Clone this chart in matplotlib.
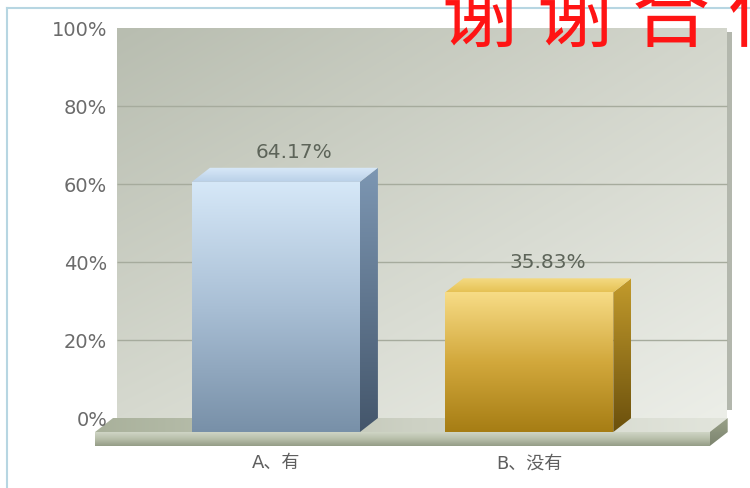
import numpy as np
import matplotlib
matplotlib.use('Agg')
import matplotlib.pyplot as plt
from matplotlib.colors import LinearSegmentedColormap, to_rgb
from matplotlib.patches import Polygon, Rectangle
from matplotlib.lines import Line2D

categories = ['A、有', 'B、没有']
values = [64.17, 35.83]
value_labels = ['64.17%', '35.83%']
y_ticks = [0, 20, 40, 60, 80, 100]
y_tick_labels = ['0%', '20%', '40%', '60%', '80%', '100%']
title_text = '谢 谢 合 作'

plt.rcParams['font.family'] = ['DejaVu Sans', 'Noto Sans CJK SC']

# 3d look: offsets of the front faces against the back wall
dx, dy = 0.071, 3.6
bar_w = 0.663
floor_th = 3.6
wall_l, wall_r = -0.698, 1.708
floor_l, floor_r = -0.714, 1.712


def grad(ax, pts, colors, direction='v', z=1):
    poly = Polygon(pts, closed=True, fc='none', ec='none', transform=ax.transData)
    ax.add_patch(poly)
    xs = [p[0] for p in pts]
    ys = [p[1] for p in pts]
    g = np.linspace(0, 1, 256)
    arr = g.reshape(-1, 1) if direction == 'v' else g.reshape(1, -1)
    cmap = LinearSegmentedColormap.from_list('g', colors)
    ax.imshow(arr, cmap=cmap, extent=[min(xs), max(xs), min(ys), max(ys)],
              origin='lower', aspect='auto', interpolation='bilinear',
              clip_path=poly, zorder=z)


fig = plt.figure(figsize=(7.5, 4.88), dpi=100)
ax = fig.add_axes([0, 0, 1, 1])
ax.set_xlim(-1.16, 1.80)
ax.set_ylim(-17.95, 107.2)
ax.set_autoscale_on(False)

# back wall, 2d gradient
tl, tr = np.array(to_rgb('#b8bdb0')), np.array(to_rgb('#d3d6cc'))
bl, br = np.array(to_rgb('#d6d9cf')), np.array(to_rgb('#eceee8'))
u = np.linspace(0, 1, 200)[None, :, None]
v = np.linspace(0, 1, 200)[:, None, None]
wall = (1 - v) * ((1 - u) * bl + u * br) + v * ((1 - u) * tl + u * tr)
ax.imshow(wall, extent=[wall_l, wall_r, 0, 100], origin='lower', aspect='auto',
          interpolation='bilinear', zorder=0.5)
ax.add_patch(Rectangle((wall_r, 2), 0.02, 97, fc='#b3b7ad', ec='none', zorder=0.6))
ax.hlines(y_ticks[1:-1], wall_l, wall_r, color='#a6ab9d', lw=1, zorder=0.8)

# floor slab
grad(ax, [(floor_l - dx, -dy), (floor_r - dx, -dy), (floor_r, 0), (floor_l, 0)],
     ['#a9b19b', '#cdd1c4', '#e2e5dc'], direction='h', z=1)
grad(ax, [(floor_l - dx, -dy - floor_th), (floor_r - dx, -dy - floor_th),
          (floor_r - dx, -dy), (floor_l - dx, -dy)],
     ['#949c86', '#b9c0ab', '#d3d8ca'], z=1)
grad(ax, [(floor_r - dx, -dy - floor_th), (floor_r, -floor_th), (floor_r, 0), (floor_r - dx, -dy)],
     ['#7c846e', '#9aa28a'], z=1)

front_cols = [['#7890a8', '#a9bfd5', '#d6e8f8'], ['#a67d14', '#d2a83c', '#f7dc86']]
side_cols = [['#44566b', '#7d97b3'], ['#6b500c', '#c39b2c']]
top_cols = [['#b9d0e8', '#d9e9f8'], ['#e6c255', '#f5dc86']]

for i, val in enumerate(values):
    x0, x1 = i - bar_w / 2, i + bar_w / 2
    grad(ax, [(x0 - dx, -dy), (x1 - dx, -dy), (x1 - dx, val - dy), (x0 - dx, val - dy)],
         front_cols[i], z=2)
    grad(ax, [(x1 - dx, -dy), (x1, 0), (x1, val), (x1 - dx, val - dy)],
         side_cols[i], z=2)
    grad(ax, [(x0 - dx, val - dy), (x1 - dx, val - dy), (x1, val), (x0, val)],
         top_cols[i], z=2)
    ax.text(i, val + 4, value_labels[i], ha='center', va='center',
            fontsize=14.5, color='#5d6459', zorder=3)

for s in ['top', 'right']:
    ax.spines[s].set_visible(False)
ax.spines['left'].set_position(('data', wall_l))
ax.spines['bottom'].set_position(('data', -dy - floor_th))
ax.spines['left'].set_visible(False)
ax.spines['bottom'].set_visible(False)
ax.set_yticks(y_ticks, y_tick_labels)
ax.set_xticks([i - dx for i in range(len(categories))], categories)
ax.tick_params(axis='y', length=0, pad=7, labelsize=14, labelcolor='#6b6b6b')
ax.tick_params(axis='x', length=0, pad=6, labelsize=13, labelcolor='#5f5f5f')

# frame of the screenshot
fig.add_artist(Line2D([7 / 750, 7 / 750], [0, 1 - 8 / 488], transform=fig.transFigure,
                      color='#b7d6e2', lw=1.5))
fig.add_artist(Line2D([7 / 750, 1], [1 - 8 / 488, 1 - 8 / 488], transform=fig.transFigure,
                      color='#b7d6e2', lw=1.5))

fig.text(442 / 750, 1 - 41 / 488, title_text, fontsize=56, color='#ff1414',
         fontweight='medium', family=['Noto Sans CJK SC'], ha='left', va='baseline')

fig.savefig('out.png', dpi=100)
